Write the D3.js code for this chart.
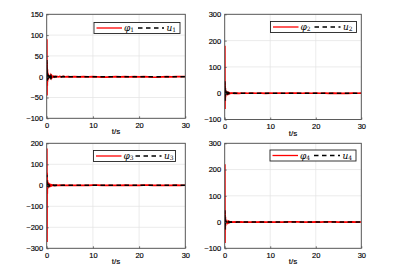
<!DOCTYPE html>
<html><head><meta charset="UTF-8"><title>phi / u</title>
<script src="https://cdn.jsdelivr.net/npm/d3@7"></script>
<style>
	body { margin:0; background:#fff; }
	svg  { display:block; }
	.tk  { font-family:"Liberation Sans",Arial,sans-serif; font-size:7.5px; fill:#000; stroke:#000; stroke-width:0.15px; }
	.lg  { font-family:"DejaVu Serif","Liberation Serif",serif; font-style:italic; font-size:9px; fill:#000; }
</style>
</head><body>
<svg id="fig" width="407" height="279"></svg>
<script>
// time axis (s), dense near the start where the transient is
var time=[0,0.03,0.06,0.09,0.12,0.15,0.18,0.21,0.25,0.3,0.35,0.4,0.45,0.5,
	0.6,0.7,0.8,0.9,1.0,1.1,1.2,1.4,1.6,1.8,2.0,2.2,2.5,2.8,
	3.2,3.6,4,4.5,5,
	6,7,8,9,10,11,12,13,14,15,16,17,18,19,20,21,22,23,24,25,26,27,28,29,30];

var phi1=[0,90,-45,35,-22,18,-12,10,-8,7,-6,5,-4,4,
	-3,3,-2.5,2,-2,1.5,-1.5,1.2,-1,1,-0.8,0.8,-0.6,0.6,
	-0.5,0.5,-0.4,0.3,-0.3,
	0.2,-0.3,0.3,-0.2,0.2,-0.3,-0.8,-1.2,-0.5,0.3,-0.2,0.2,-0.3,0.3,-0.2,0.2,-0.4,-1,-1.3,-0.6,0.3,-0.2,0.3,0.4,0.5];
var u1=[0,40,-12,15,-10,8,-7,6,-5,5,-4,3,-3,3,
	-2.5,2,-2,1.5,-1.5,1.2,-1,1,-0.8,0.8,-0.6,0.5,-0.4,0.4,
	-0.3,0.3,-0.2,0.2,-0.1,
	0,0,0,0,0,0,0,0,0,0,0,0,0,0,0,0,0,0,0,0,0,0,0,0,0];

var phi2=[0,180,-60,40,-30,20,-15,10,-8,6,-5,4,-3,3,
	-2,2,-1.5,1.5,-1,1,-0.8,0.8,-0.6,0.6,-0.5,0.4,-0.4,0.3,
	-0.3,0.3,-0.2,0.2,-0.2,
	0.2,-0.2,0.2,-0.3,0.2,-0.2,0.3,-0.2,0.5,0.8,0.3,-0.2,0.2,-0.2,0.3,-0.2,0.2,-0.3,0.2,-0.5,-0.9,-0.6,0.2,-0.2,0.2];
var u2=[0,45,-30,20,-15,10,-8,6,-5,4,-3,3,-2,2,
	-1.5,1.5,-1,1,-0.8,0.6,-0.5,0.4,-0.3,0.3,-0.2,0.2,-0.1,0.1,
	0,0,0,0,0,
	0,0,0,0,0,0,0,0,0,0,0,0,0,0,0,0,0,0,0,0,0,0,0,0,0];

var phi3=[0,175,-270,60,-40,25,-15,12,-8,6,-5,4,-3,3,
	-2.5,2,-2,1.5,-1.5,1.2,-1,1,-0.8,0.8,-0.6,0.6,-0.5,0.5,
	-0.4,0.4,-0.3,0.3,-0.3,
	0.3,-0.4,0.3,-0.3,0.4,0.6,-0.3,0.3,-0.4,0.3,-0.3,0.4,-0.3,0.3,-0.4,0.5,0.7,-0.3,0.3,-0.4,0.3,-0.3,0.4,-0.3,0.3];
var u3=[0,50,-10,20,-8,8,-5,5,-4,3,-3,2,-2,2,
	-1.5,1.5,-1,1,-0.8,0.8,-0.6,0.5,-0.4,0.4,-0.3,0.3,-0.2,0.2,
	-0.1,0.1,0,0,0,
	0,0,0,0,0,0,0,0,0,0,0,0,0,0,0,0,0,0,0,0,0,0,0,0,0];

var phi4=[0,220,-80,40,-30,20,-15,10,-8,6,-5,4,-3,3,
	-2,2,-1.5,1.5,-1.2,1,-0.8,0.8,-0.6,0.6,-0.5,0.4,-0.4,0.3,
	-0.3,0.3,-0.2,0.2,-0.2,
	0.2,-0.2,0.3,-0.2,0.2,-0.3,0.2,-0.2,0.5,0.8,0.4,-0.2,0.2,-0.2,0.3,-0.2,0.6,0.9,0.5,-0.2,0.2,-0.2,0.3,-0.2,0.2];
var u4=[0,45,-30,18,-12,10,-8,6,-5,4,-3,3,-2,2,
	-1.5,1.5,-1,1,-0.8,0.6,-0.5,0.4,-0.3,0.3,-0.2,0.2,-0.1,0.1,
	0,0,0,0,0,
	0,0,0,0,0,0,0,0,0,0,0,0,0,0,0,0,0,0,0,0,0,0,0,0,0];

var xTicks=[0,10,20,30];
var yTicks1=[-100,-50,0,50,100,150];
var yTicks2=[-100,0,100,200,300];
var yTicks3=[-300,-200,-100,0,100,200];
var yTicks4=[-100,0,100,200,300];

var panels=[
	{x0:46.7,x1:185.3,y0:14.3,y1:118.3,yt:yTicks1,phi:phi1,u:u1,k:1,lx:94,ly:22.5,lw:86},
	{x0:224.7,x1:361.3,y0:14.3,y1:119.5,yt:yTicks2,phi:phi2,u:u2,k:2,lx:270.5,ly:21.5,lw:86},
	{x0:46.7,x1:185.3,y0:143.3,y1:248.3,yt:yTicks3,phi:phi3,u:u3,k:3,lx:93.5,ly:150.5,lw:82},
	{x0:224.7,x1:361.3,y0:143.3,y1:248.3,yt:yTicks4,phi:phi4,u:u4,k:4,lx:270,ly:150,lw:86}
];

var svg=d3.select('#fig');

panels.forEach(function(p,pi){
	var x=d3.scaleLinear().domain([0,30]).range([p.x0,p.x1]);
	var y=d3.scaleLinear().domain(d3.extent(p.yt)).range([p.y1,p.y0]);
	var g=svg.append('g');
	// grid
	g.selectAll('.gx').data(xTicks).enter().append('line')
		.attr('x1',function(d){return x(d);}).attr('x2',function(d){return x(d);})
		.attr('y1',p.y0).attr('y2',p.y1).attr('stroke','#e3e3e3').attr('stroke-width',0.7);
	g.selectAll('.gy').data(p.yt).enter().append('line')
		.attr('y1',function(d){return y(d);}).attr('y2',function(d){return y(d);})
		.attr('x1',p.x0).attr('x2',p.x1).attr('stroke','#e3e3e3').attr('stroke-width',0.7);
	// curves
	var cid='clip'+pi;
	svg.append('clipPath').attr('id',cid).append('rect')
		.attr('x',p.x0).attr('y',p.y0).attr('width',p.x1-p.x0).attr('height',p.y1-p.y0);
	var line=d3.line().x(function(d,i){return x(time[i]);}).y(function(d){return y(d);});
	g.append('path').attr('d',line(p.phi)).attr('clip-path','url(#'+cid+')')
		.attr('fill','none').attr('stroke','#ff0000').attr('stroke-width',1.7);
	g.append('path').attr('d',line(p.u)).attr('clip-path','url(#'+cid+')')
		.attr('fill','none').attr('stroke','#000').attr('stroke-width',1.6).attr('stroke-dasharray','4.5,3.5');
	// axes
	var ax=g.append('g').attr('transform','translate(0,'+p.y1+')')
		.call(d3.axisBottom(x).tickValues(xTicks).tickSizeInner(-2).tickSizeOuter(0).tickPadding(4.5));
	var ay=g.append('g').attr('transform','translate('+p.x0+',0)')
		.call(d3.axisLeft(y).tickValues(p.yt).tickSizeInner(-2).tickSizeOuter(0).tickPadding(3.5));
	[ax,ay].forEach(function(a){
		a.select('.domain').remove();
		a.selectAll('line').attr('stroke','#4d4d4d').attr('stroke-width',0.8);
		a.selectAll('text').attr('class','tk').attr('font-family',null).attr('font-size',null).attr('fill',null);
	});
	// box
	g.append('rect').attr('x',p.x0).attr('y',p.y0).attr('width',p.x1-p.x0).attr('height',p.y1-p.y0)
		.attr('fill','none').attr('stroke','#4d4d4d').attr('stroke-width',0.9);
	// x label
	g.append('text').attr('class','tk').attr('x',(p.x0+p.x1)/2).attr('y',p.y1+16)
		.attr('text-anchor','middle').style('font-size','8px').text('t/s');
	// legend
	var lg=g.append('g').attr('transform','translate('+p.lx+','+p.ly+')');
	lg.append('rect').attr('width',p.lw).attr('height',11).attr('fill','#fff')
		.attr('stroke','#222').attr('stroke-width',0.9);
	lg.append('line').attr('x1',2.5).attr('x2',28).attr('y1',5.5).attr('y2',5.5)
		.attr('stroke','#ff0000').attr('stroke-width',1.3);
	var t1=lg.append('text').attr('class','lg').attr('x',30).attr('y',8.5);
	t1.append('tspan').text('φ');
	t1.append('tspan').style('font-size','6px').style('font-style','normal').attr('dy',1.3).text(p.k);
	var mid=p.lw/2+1;
	lg.append('line').attr('x1',mid).attr('x2',mid+26).attr('y1',5.5).attr('y2',5.5)
		.attr('stroke','#000').attr('stroke-width',1.3).attr('stroke-dasharray','4.5,3.5');
	var t2=lg.append('text').attr('class','lg').attr('x',mid+28.5).attr('y',8.5);
	t2.append('tspan').text('u');
	t2.append('tspan').style('font-size','6px').style('font-style','normal').attr('dy',1.3).text(p.k);
});
</script>
</body></html>
